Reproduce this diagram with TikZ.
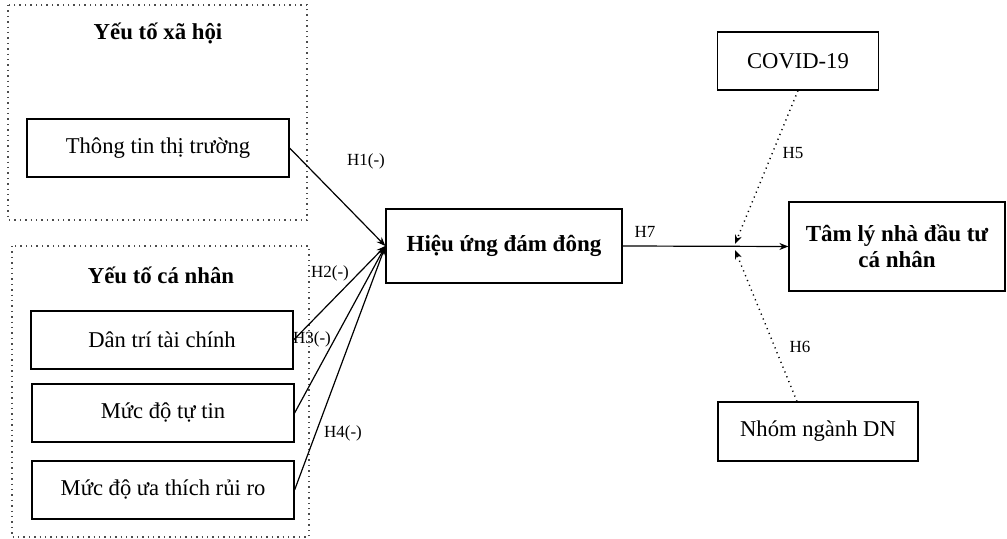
\documentclass[tikz,border=0pt]{standalone}
\usepackage{fontspec}
\setmainfont{Liberation Serif}
\usepackage{tikz}
\usetikzlibrary{calc, arrows.meta}

\begin{document}
\begin{tikzpicture}[
    x=0.5pt, y=-0.5pt,
    font=\fontsize{11.3}{13}\selectfont,
    box/.style={rectangle, draw, line width=0.6pt, inner sep=0pt, align=center},
    factor/.style={box, minimum width=131pt, minimum height=29pt},
    mainbox/.style={box, font=\fontsize{11.5}{13}\selectfont\bfseries},
    group/.style={draw, dotted, line width=0.7pt, gray!60!black},
    title/.style={font=\fontsize{11.4}{13}\selectfont\bfseries},
    hyp/.style={font=\fontsize{8.5}{10}\selectfont, inner sep=1pt},
    arrow/.style={-{Stealth[length=4.5pt, width=3.5pt]}, line width=0.6pt}
]
    \useasboundingbox (0,0) rectangle (1007,539);

    % --- 1. Social factors ---
    \draw[group] (8,5) rectangle (307,220);
    \node[title] (social) at (158,33) {Yếu tố xã hội};
    \node[factor] (info) at (158,148) {Thông tin thị trường};

    % --- 2. Personal factors ---
    \draw[group] (12,246) rectangle (309,537);
    \node[title] (personal) at (161,275) {Yếu tố cá nhân};
    \node[factor] (literacy) at (162,340) {Dân trí tài chính};
    \node[factor] (confidence) at (163,413) {Mức độ tự tin};
    \node[factor] (risk) at (163,490) {Mức độ ưa thích rủi ro};

    % --- 3. Herding ---
    \node[mainbox, minimum width=118pt, minimum height=37pt] (herding) at (504,246) {Hiệu ứng đám đông};

    % --- 4. Investor sentiment ---
    \node[mainbox, minimum width=108pt, minimum height=44.5pt] (sentiment) at (897,246.5) {Tâm lý nhà đầu tư\\cá nhân};

    % --- 5. Moderators ---
    \node[box, minimum width=80.5pt, minimum height=29pt] (covid) at (798,61) {COVID-19};
    \node[box, minimum width=100pt, minimum height=29.5pt] (industry) at (818,431.5) {Nhóm ngành DN};
    \coordinate (junction) at (735,247);

    % --- 6. Connections ---
    \draw[arrow] (info.east) -- (herding.west);
    \draw[arrow] (literacy.east) -- (herding.west);
    \draw[arrow] (confidence.east) -- (herding.west);
    \draw[arrow] (risk.east) -- (herding.west);
    \draw[arrow] (herding.east) -- (sentiment.west);
    \draw[arrow, dotted, line width=0.7pt] (covid.south) -- ($(junction)+(0,-3)$);
    \draw[arrow, dotted, line width=0.7pt] ($(industry.north)+(-21,0)$) -- ($(junction)+(0,3)$);

    % --- 7. Hypothesis labels ---
    \node[hyp] (h1) at (366,161) {H1(-)};
    \node[hyp] (h2) at (330,273) {H2(-)};
    \node[hyp] (h3) at (312,339) {H3(-)};
    \node[hyp] (h4) at (343,433) {H4(-)};
    \node[hyp] (h5) at (793,153) {H5};
    \node[hyp] (h6) at (800,347) {H6};
    \node[hyp] (h7) at (645,232) {H7};

\end{tikzpicture}
\end{document}
